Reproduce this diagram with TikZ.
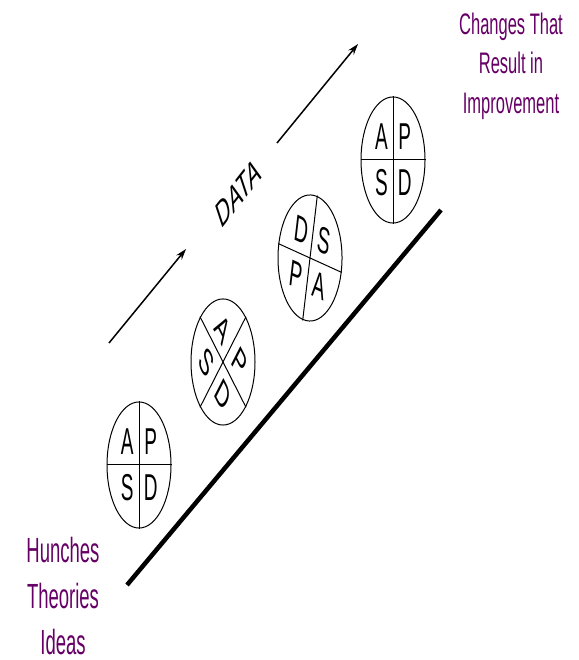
\documentclass[tikz,border=0pt]{standalone}
\usepackage{fontspec}
\setmainfont{Liberation Sans}
\usetikzlibrary{arrows.meta}
\definecolor{Plum}{HTML}{660066}

\begin{document}
\begin{tikzpicture}[x=1pt,y=1pt,
  wheel/.style={draw,circle,minimum size=64pt,inner sep=0pt,line width=1pt},
  spoke/.style={line width=1pt},
  quad/.style={inner sep=0pt,font=\fontsize{19}{19}\selectfont},
  flow/.style={-{Stealth[length=11pt,width=7pt]},line width=1.5pt},
  ramp/.style={line width=4.5pt},
  tag/.style={inner sep=0pt,font=\fontsize{19}{19}\selectfont},
  goal/.style={color=Plum,align=center,inner sep=0pt}
]
\useasboundingbox (0,0) rectangle (578,660);

% Ramp of improvement.
\coordinate (rampLo) at (127,75);
\coordinate (rampHi) at (441,450);
\draw[ramp] (rampLo)--(rampHi);

% Cycle 1: upright.
\begin{scope}[shift={(139,195)},yscale=1.97,transform shape]
\node[wheel] (w1) at (0,0) {};
\draw[spoke] (w1.north)--(w1.south); \draw[spoke] (w1.west)--(w1.east);
\node[quad] (w1a) at (135:16.5) {A};
\node[quad] (w1p) at (45:16.5) {P};
\node[quad] (w1s) at (225:16.5) {S};
\node[quad] (w1d) at (315:16.5) {D};
\end{scope}

% Cycle 2: turned by a quarter step.
\begin{scope}[shift={(223,298)},yscale=1.97,rotate=-45,transform shape]
\node[wheel] (w2) at (0,0) {};
\draw[spoke] (w2.north)--(w2.south); \draw[spoke] (w2.west)--(w2.east);
\node[quad] (w2a) at (135:16.5) {A};
\node[quad] (w2p) at (45:16.5) {P};
\node[quad] (w2s) at (225:16.5) {S};
\node[quad] (w2d) at (315:16.5) {D};
\end{scope}

% Cycle 3: turned half way.
\begin{scope}[shift={(310,402)},yscale=1.97,rotate=-13,transform shape]
\node[wheel] (w3) at (0,0) {};
\draw[spoke] (w3.north)--(w3.south); \draw[spoke] (w3.west)--(w3.east);
\node[quad] (w3d) at (135:16.5) {D};
\node[quad] (w3s) at (45:16.5) {S};
\node[quad] (w3p) at (225:16.5) {P};
\node[quad] (w3a) at (315:16.5) {A};
\end{scope}

% Cycle 4: back to upright.
\begin{scope}[shift={(393,500)},yscale=1.97,transform shape]
\node[wheel] (w4) at (0,0) {};
\draw[spoke] (w4.north)--(w4.south); \draw[spoke] (w4.west)--(w4.east);
\node[quad] (w4a) at (135:16.5) {A};
\node[quad] (w4p) at (45:16.5) {P};
\node[quad] (w4s) at (225:16.5) {S};
\node[quad] (w4d) at (315:16.5) {D};
\end{scope}

% Data flow.
\coordinate (d1s) at (109,317);
\coordinate (d1e) at (186,411);
\coordinate (d2s) at (277,517);
\coordinate (d2e) at (358,616);
\draw[flow] (d1s)--(d1e);
\draw[flow] (d2s)--(d2e);
\node[tag,yscale=1.97,rotate=33] (data) at (238,467) {DATA};

% End points.
\node[goal,font=\fontsize{18.5}{24.3}\selectfont,yscale=1.89] (ideas) at (63,64)
  {Hunches\\Theories\\Ideas};
\node[goal,font=\fontsize{16.5}{22}\selectfont,yscale=1.8] (change) at (511,594)
  {Changes That\\Result in\\Improvement};
\end{tikzpicture}
\end{document}
